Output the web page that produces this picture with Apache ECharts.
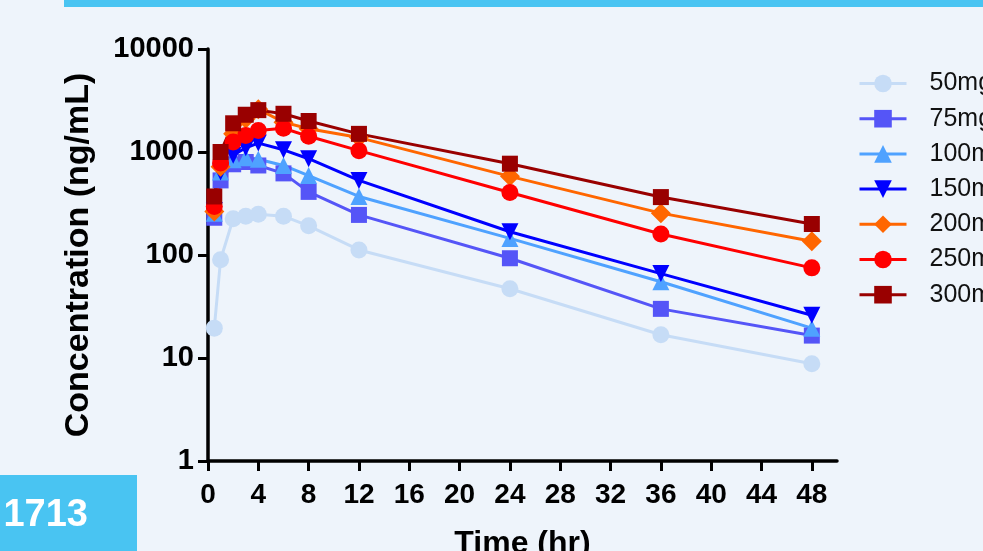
<!DOCTYPE html>
<html>
<head>
<meta charset="utf-8">
<script src="https://cdn.jsdelivr.net/npm/echarts@6/dist/echarts.min.js"></script>
<style>
  html, body { margin: 0; padding: 0; background: #eef4fb; }
  #main { width: 983px; height: 551px; }
</style>
</head>
<body>
<div id="main"></div>
<script>
// sampling times (hr)
var times = [0.5, 1, 2, 3, 4, 6, 8, 12, 24, 36, 48];
// concentration (ng/mL) per dose group
var c50 = [19.5, 90, 225, 238, 249, 238, 192, 112, 47, 16.8, 8.8];
var c75 = [230, 530, 760, 800, 740, 620, 410, 245, 93, 30, 16.5];
var c100 = [255, 640, 840, 880, 850, 740, 590, 370, 145, 55, 19.5];
var c150 = [270, 640, 930, 1100, 1220, 1050, 860, 530, 168, 66, 26];
var c200 = [265, 720, 1500, 2100, 2600, 1950, 1680, 1380, 580, 255, 136];
var c250 = [295, 780, 1250, 1450, 1620, 1700, 1420, 1030, 405, 160, 75];
var c300 = [370, 1000, 1900, 2300, 2550, 2350, 2000, 1500, 770, 365, 200];
var doseNames = ['50mg', '75mg', '100mg', '150mg', '200mg', '250mg', '300mg'];
var xTicks = [0, 4, 8, 12, 16, 20, 24, 28, 32, 36, 40, 44, 48];

var chartDom = document.getElementById('main');
var myChart = echarts.init(chartDom);

function pairs(vals) {
  return times.map(function (t, i) { return [t, vals[i]]; });
}

function makeSeries(name, vals, color, symbol, size, rotate) {
  return {
    name: name,
    type: 'line',
    data: pairs(vals),
    symbol: symbol,
    symbolSize: size,
    symbolRotate: rotate || 0,
    lineStyle: { color: color, width: 3 },
    itemStyle: { color: color },
    emphasis: { disabled: true }
  };
}

var font = 'Liberation Sans, Arial, Helvetica, sans-serif';

var option = {
  backgroundColor: '#eef4fb',
  animation: false,
  grid: { left: 208, right: 146, top: 49, bottom: 90, outerBoundsMode: 'none' },
  legend: {
    orient: 'vertical',
    left: 856,
    top: 69,
    padding: 2,
    itemWidth: 47,
    itemHeight: 22,
    itemGap: 10.2,
    data: doseNames,
    lineStyle: { width: 3 },
    textStyle: { fontFamily: font, fontSize: 25, color: '#111', padding: [0, 0, 0, 18] }
  },
  xAxis: {
    type: 'value',
    min: 0,
    max: 50,
    interval: 4,
    name: 'Time (hr)',
    nameLocation: 'middle',
    nameGap: 67,
    nameTextStyle: { fontFamily: font, fontSize: 32, fontWeight: 'bold', color: '#000' },
    splitLine: { show: false },
    axisLine: { lineStyle: { color: '#000', width: 3.5 } },
    axisTick: { length: 10, lineStyle: { color: '#000', width: 3 }, customValues: xTicks },
    axisLabel: {
      customValues: xTicks,
      margin: 20,
      fontFamily: font, fontSize: 28, fontWeight: 'bold', color: '#000'
    }
  },
  yAxis: {
    type: 'log',
    logBase: 10,
    min: 1,
    max: 10000,
    name: 'Concentration (ng/mL)',
    nameLocation: 'middle',
    nameGap: 112,
    nameTextStyle: { fontFamily: font, fontSize: 34, fontWeight: 'bold', color: '#000' },
    splitLine: { show: false },
    axisLine: { show: true, lineStyle: { color: '#000', width: 3.5 } },
    axisTick: { show: true, length: 10, lineStyle: { color: '#000', width: 3 } },
    axisLabel: {
      margin: 14,
      fontFamily: font, fontSize: 29, fontWeight: 'bold', color: '#000',
      formatter: function (v) { return String(Math.round(v)); }
    }
  },
  graphic: [
    { type: 'rect', left: 64, top: 0, shape: { width: 919, height: 7 }, style: { fill: '#49c4f2' } },
    { type: 'rect', left: 0, top: 475, shape: { width: 137, height: 76 }, style: { fill: '#49c4f2' } },
    {
      type: 'text', x: 88, y: 516,
      style: { text: '1713', fill: '#fff', font: 'bold 38px ' + font, textAlign: 'right', textVerticalAlign: 'middle' }
    }
  ],
  series: [
    makeSeries(doseNames[0], c50, '#c6dcf6', 'circle', 17),
    makeSeries(doseNames[1], c75, '#5555f7', 'rect', 16),
    makeSeries(doseNames[2], c100, '#4fa2ff', 'triangle', 17),
    makeSeries(doseNames[3], c150, '#0000ff', 'triangle', 17, 180),
    makeSeries(doseNames[4], c200, '#ff6600', 'diamond', 20),
    makeSeries(doseNames[5], c250, '#ff0000', 'circle', 17),
    makeSeries(doseNames[6], c300, '#990000', 'rect', 16)
  ]
};

myChart.setOption(option);
</script>
</body>
</html>
